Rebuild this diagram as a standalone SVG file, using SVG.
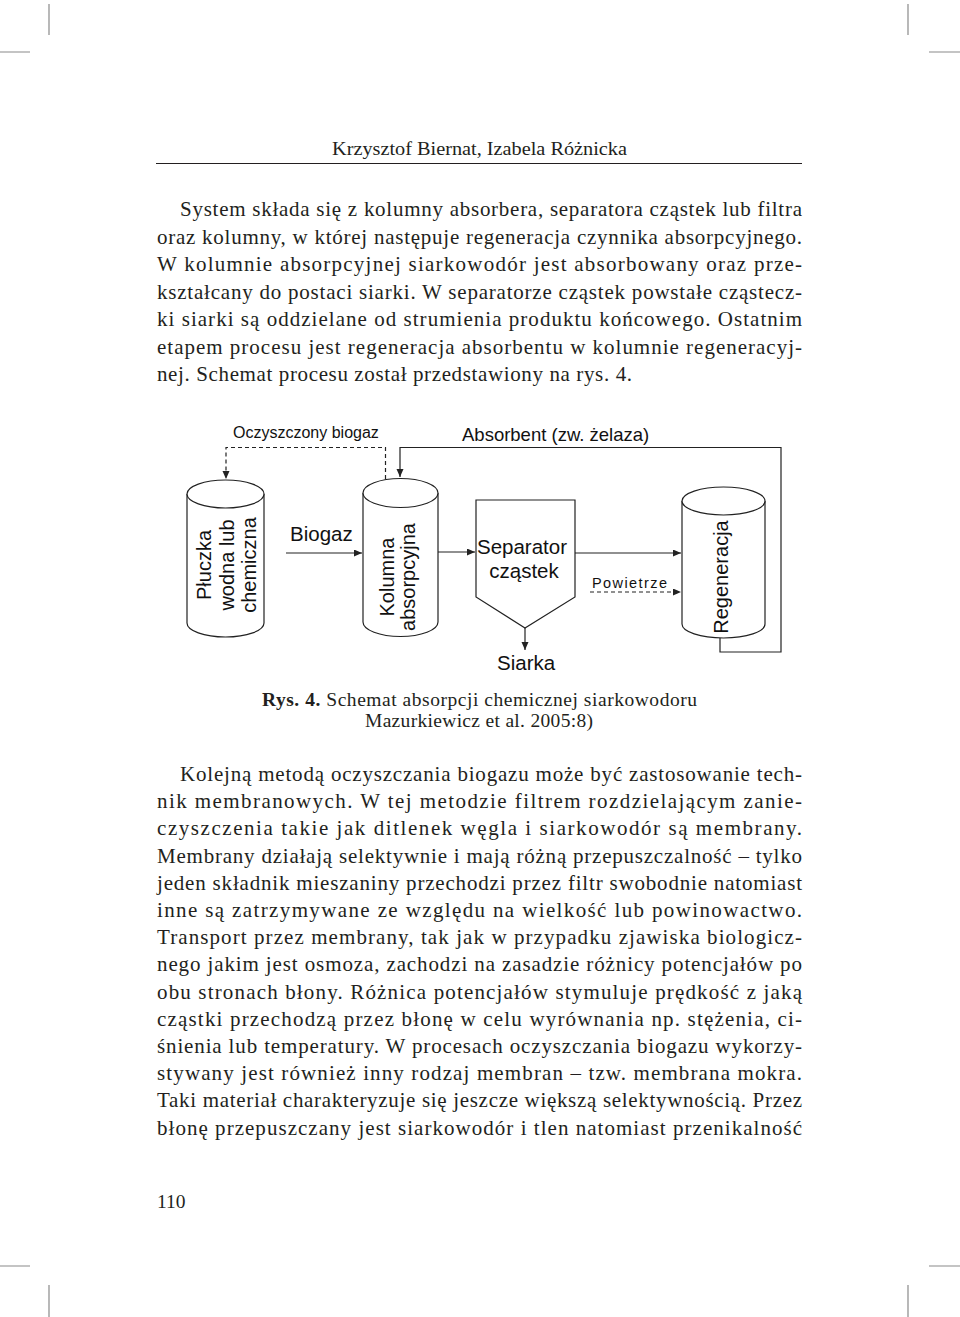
<svg xmlns="http://www.w3.org/2000/svg" width="960" height="1317" viewBox="0 0 960 1317">
<style>
.crop{stroke:#8a8a8a;stroke-width:1.2;fill:none}
.body{font-family:"Liberation Serif","Times New Roman",serif;font-size:21px;fill:#231f20}
.hdr{font-family:"Liberation Serif","Times New Roman",serif;font-size:19.5px;fill:#231f20}
.cap{font-family:"Liberation Serif","Times New Roman",serif;font-size:19.5px;fill:#231f20}
.lbl{font-family:"Liberation Sans",Arial,sans-serif;fill:#111}
.shape{fill:#fff;stroke:#222;stroke-width:1.2}
.conn{fill:none;stroke:#222;stroke-width:1.2}
.dash{stroke-dasharray:4 3}
</style>
<defs>
<marker id="arr" markerWidth="9" markerHeight="8" refX="8" refY="3.5" orient="auto" markerUnits="userSpaceOnUse">
<path d="M0,0 L8,3.5 L0,7 Z" fill="#222"/>
</marker>
</defs>
<rect width="960" height="1317" fill="#fff"/>
<g id="cropmarks">
<path class="crop" d="M49,4 V35 M0,52 H30 M908,4 V35 M929,52 H960 M0,1266 H30 M49,1285 V1317 M908,1285 V1317 M929,1266 H960"/>
</g>
<g id="header">
<text class="hdr" x="332" y="155" textLength="295" lengthAdjust="spacingAndGlyphs">Krzysztof Biernat, Izabela Różnicka</text>
<line x1="156" y1="163.5" x2="802" y2="163.5" stroke="#231f20" stroke-width="1.2"/>
</g>
<g id="paragraph1" class="body">
<text x="180" y="216" textLength="622" lengthAdjust="spacing">System składa się z kolumny absorbera, separatora cząstek lub filtra</text>
<text x="157" y="243.5" textLength="645" lengthAdjust="spacing">oraz kolumny, w której następuje regeneracja czynnika absorpcyjnego.</text>
<text x="157" y="271" textLength="645" lengthAdjust="spacing">W kolumnie absorpcyjnej siarkowodór jest absorbowany oraz prze-</text>
<text x="157" y="298.5" textLength="645" lengthAdjust="spacing">kształcany do postaci siarki. W separatorze cząstek powstałe cząstecz-</text>
<text x="157" y="326" textLength="645" lengthAdjust="spacing">ki siarki są oddzielane od strumienia produktu końcowego. Ostatnim</text>
<text x="157" y="353.5" textLength="645" lengthAdjust="spacing">etapem procesu jest regeneracja absorbentu w kolumnie regeneracyj-</text>
<text x="157" y="381" textLength="475" lengthAdjust="spacing">nej. Schemat procesu został przedstawiony na rys. 4.</text>
</g>
<g id="connectors">
<path class="conn dash" d="M385.5,479 V447.5 H226 V479" marker-end="url(#arr)"/>
<path class="conn" d="M720,638 V652 H781 V447.5 H400 V477" marker-end="url(#arr)"/>
<path class="conn" d="M286,553 H362" marker-end="url(#arr)"/>
<path class="conn" d="M438,552 H475" marker-end="url(#arr)"/>
<path class="conn" d="M575,553 H681" marker-end="url(#arr)"/>
<path class="conn dash" d="M590,592 H681" marker-end="url(#arr)"/>
<path class="conn" d="M525,628 V650" marker-end="url(#arr)"/>
</g>
<g id="node-pluczka">
<path class="shape" d="M187,494 V623 A38.5,14 0 0 0 264,623 V494"/>
<ellipse class="shape" cx="225.5" cy="494" rx="38.5" ry="14"/>
<g class="lbl" font-size="20" text-anchor="middle">
<text transform="translate(211,565) rotate(-90)">Płuczka</text>
<text transform="translate(233.5,565) rotate(-90)">wodna lub</text>
<text transform="translate(256,565) rotate(-90)">chemiczna</text>
</g>
</g>
<g id="node-kolumna">
<path class="shape" d="M363,493 V622 A37.5,14.5 0 0 0 438,622 V493"/>
<ellipse class="shape" cx="400.5" cy="493" rx="37.5" ry="14.5"/>
<g class="lbl" font-size="20" text-anchor="middle">
<text transform="translate(394,577) rotate(-90)">Kolumna</text>
<text transform="translate(414.5,577) rotate(-90)">absorpcyjna</text>
</g>
</g>
<g id="node-separator">
<path class="shape" d="M476,500 H575 V597 L525,628 L476,597 Z"/>
<text class="lbl" font-size="20.5" x="522" y="554" text-anchor="middle">Separator</text>
<text class="lbl" font-size="20.5" x="524" y="578" text-anchor="middle">cząstek</text>
</g>
<g id="node-regeneracja">
<path class="shape" d="M682,501 V624 A41.5,14 0 0 0 765,624 V501"/>
<ellipse class="shape" cx="723.5" cy="501" rx="41.5" ry="14"/>
<text class="lbl" font-size="20" text-anchor="middle" transform="translate(728,577) rotate(-90)">Regeneracja</text>
</g>
<g id="labels" class="lbl">
<text x="233" y="437.5" font-size="16">Oczyszczony biogaz</text>
<text x="462" y="441" font-size="18.5">Absorbent (zw. żelaza)</text>
<text x="290" y="541" font-size="20.5">Biogaz</text>
<text x="592" y="588" font-size="14.5" textLength="75" lengthAdjust="spacing">Powietrze</text>
<text x="497" y="670" font-size="20.5">Siarka</text>
</g>
<g id="caption" class="cap">
<text x="262" y="706" textLength="435" lengthAdjust="spacing"><tspan font-weight="bold">Rys. 4.</tspan> Schemat absorpcji chemicznej siarkowodoru</text>
<text x="365" y="727" textLength="228" lengthAdjust="spacing">Mazurkiewicz et al. 2005:8)</text>
</g>
<g id="paragraph2" class="body">
<text x="180" y="781" textLength="622" lengthAdjust="spacing">Kolejną metodą oczyszczania biogazu może być zastosowanie tech-</text>
<text x="157" y="808.2" textLength="645" lengthAdjust="spacing">nik membranowych. W tej metodzie filtrem rozdzielającym zanie-</text>
<text x="157" y="835.4" textLength="645" lengthAdjust="spacing">czyszczenia takie jak ditlenek węgla i siarkowodór są membrany.</text>
<text x="157" y="862.6" textLength="645" lengthAdjust="spacing">Membrany działają selektywnie i mają różną przepuszczalność – tylko</text>
<text x="157" y="889.8" textLength="645" lengthAdjust="spacing">jeden składnik mieszaniny przechodzi przez filtr swobodnie natomiast</text>
<text x="157" y="917" textLength="645" lengthAdjust="spacing">inne są zatrzymywane ze względu na wielkość lub powinowactwo.</text>
<text x="157" y="944.2" textLength="645" lengthAdjust="spacing">Transport przez membrany, tak jak w przypadku zjawiska biologicz-</text>
<text x="157" y="971.4" textLength="645" lengthAdjust="spacing">nego jakim jest osmoza, zachodzi na zasadzie różnicy potencjałów po</text>
<text x="157" y="998.6" textLength="645" lengthAdjust="spacing">obu stronach błony. Różnica potencjałów stymuluje prędkość z jaką</text>
<text x="157" y="1025.8" textLength="645" lengthAdjust="spacing">cząstki przechodzą przez błonę w celu wyrównania np. stężenia, ci-</text>
<text x="157" y="1053" textLength="645" lengthAdjust="spacing">śnienia lub temperatury. W procesach oczyszczania biogazu wykorzy-</text>
<text x="157" y="1080.2" textLength="645" lengthAdjust="spacing">stywany jest również inny rodzaj membran – tzw. membrana mokra.</text>
<text x="157" y="1107.4" textLength="645" lengthAdjust="spacing">Taki materiał charakteryzuje się jeszcze większą selektywnością. Przez</text>
<text x="157" y="1134.6" textLength="645" lengthAdjust="spacing">błonę przepuszczany jest siarkowodór i tlen natomiast przenikalność</text>
</g>
<g id="footer">
<text class="hdr" x="157" y="1208" font-size="20">110</text>
</g>
</svg>
